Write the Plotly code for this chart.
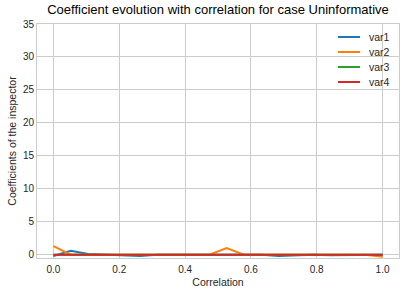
import numpy as np
import plotly.graph_objects as go

correlation = [round(v, 4) for v in np.linspace(0, 1, 20)]
var1 = [-0.2, 0.6, 0.1, 0.0, -0.2, -0.2, 0.0, 0.0, 0.0, 0.0, 0.0, 0.0, 0.0, -0.2, -0.1, 0.0, -0.1, -0.1, 0.0, 0.0]
var2 = [1.3, 0.0, 0.0, 0.0, 0.0, 0.0, 0.0, 0.0, 0.0, 0.0, 1.0, 0.0, 0.0, 0.0, 0.0, 0.1, 0.0, 0.0, 0.0, -0.3]
var3 = [0.0] * 20
var4 = [0.0] * 20
names = ["var1", "var2", "var3", "var4"]
colors = ["#1f77b4", "#ff7f0e", "#2ca02c", "#d62728"]

W, H = 407, 294
L, R, T, B = 37, 8, 24, 36
pw, ph = W - L - R, H - T - B

fig = go.Figure()
for name, vals, col in zip(names, [var1, var2, var3, var4], colors):
    fig.add_trace(go.Scatter(x=correlation, y=vals, mode="lines", name=name,
                             line=dict(color=col, width=2), showlegend=False))

# compact legend (matplotlib-like spacing)
for i, (name, col) in enumerate(zip(names, colors)):
    yc = 1 - (37 + 15 * i - T) / ph
    fig.add_shape(type="line", xref="paper", yref="paper",
                  x0=(338 - L) / pw, x1=(360 - L) / pw, y0=yc, y1=yc,
                  line=dict(color=col, width=2))
    fig.add_annotation(xref="paper", yref="paper", x=(367 - L) / pw, y=yc,
                       xanchor="left", yanchor="middle", text=name, showarrow=False,
                       font=dict(size=10.5, color="#262626"))

font = "Liberation Sans, Arial, sans-serif"
fig.update_layout(
    width=W, height=H,
    margin=dict(l=L, r=R, t=T, b=B),
    paper_bgcolor="white", plot_bgcolor="white",
    font=dict(family=font, size=10, color="#262626"),
    title=dict(text="Coefficient evolution with correlation for case Uninformative",
               x=0.5, xref="paper", xanchor="center", y=1, yref="container",
               yanchor="top", pad=dict(t=5), font=dict(size=13, color="black")),
    xaxis=dict(range=[-0.05, 1.05], tickvals=[0, 0.2, 0.4, 0.6, 0.8, 1.0],
               ticktext=["0.0", "0.2", "0.4", "0.6", "0.8", "1.0"],
               showgrid=True, gridcolor="#cccccc", gridwidth=1, zeroline=False,
               showline=True, linecolor="#cccccc", mirror=True, ticks="",
               ticklabelstandoff=2,
               title=dict(text="Correlation", standoff=4, font=dict(size=10.5)),
               tickfont=dict(size=10)),
    yaxis=dict(range=[-0.5, 35], tickvals=[0, 5, 10, 15, 20, 25, 30, 35],
               showgrid=True, gridcolor="#cccccc", gridwidth=1, zeroline=False,
               showline=True, linecolor="#cccccc", mirror=True, ticks="",
               title=dict(text="Coefficients of the inspector", standoff=4, font=dict(size=10.5)),
               tickfont=dict(size=10)),
)

fig.write_html("out.html", config={"displayModeBar": False},
               post_script="document.body.style.margin='0';")
